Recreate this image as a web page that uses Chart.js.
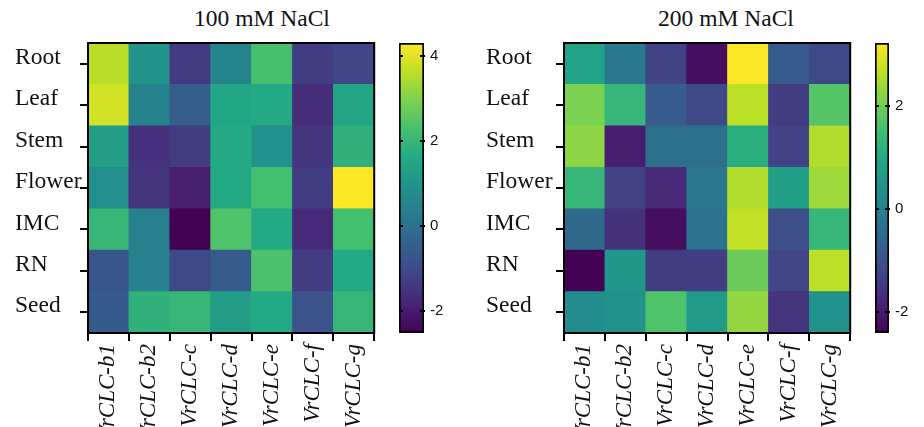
<!DOCTYPE html>
<html>
<head>
<meta charset="utf-8">
<script src="https://cdn.jsdelivr.net/npm/chart.js@4/dist/chart.umd.min.js"></script>
<style>
  body { margin: 0; background: #fff; }
  #wrap { position: relative; width: 924px; height: 427px; overflow: hidden; }
  .box { position: absolute; }
  .ttl { position: absolute; top: 5px; font: 23.5px "Liberation Serif", serif; color: #111; white-space: nowrap; transform: translateX(-50%); }
</style>
</head>
<body>
<div id="wrap">
  <div class="ttl" style="left:262px">100 mM NaCl</div>
  <div class="ttl" style="left:726px">200 mM NaCl</div>
  <div class="box" style="left:0;top:0;width:385px;height:427px"><canvas id="heat100"></canvas></div>
  <div class="box" style="left:399px;top:0;width:60px;height:427px"><canvas id="bar100"></canvas></div>
  <div class="box" style="left:471px;top:0;width:390px;height:427px"><canvas id="heat200"></canvas></div>
  <div class="box" style="left:875px;top:0;width:49px;height:427px"><canvas id="bar200"></canvas></div>
</div>
<script>
// genes (columns) and tissues (rows, top to bottom)
const genes = ["VrCLC-b1", "VrCLC-b2", "VrCLC-c", "VrCLC-d", "VrCLC-e", "VrCLC-f", "VrCLC-g"];
const tissues = ["Root", "Leaf", "Stem", "Flower", "IMC", "RN", "Seed"];

// 100 mM NaCl, one array per tissue
const nacl100Root   = [3.6, 1.0, -1.35, 0.55, 2.3, -1.3, -1.1];
const nacl100Leaf   = [3.85, 0.5, -0.5, 1.5, 1.6, -1.65, 1.45];
const nacl100Stem   = [1.25, -1.55, -1.3, 1.6, 0.9, -1.45, 1.85];
const nacl100Flower = [0.85, -1.5, -1.95, 1.6, 2.25, -1.3, 4.3];
const nacl100IMC    = [2.0, 0.4, -2.5, 2.4, 1.6, -1.7, 2.25];
const nacl100RN     = [-0.7, 0.4, -1.0, -0.55, 2.35, -1.3, 1.6];
const nacl100Seed   = [-0.6, 1.85, 2.0, 1.25, 1.6, -0.8, 2.0];

// 200 mM NaCl
const nacl200Root   = [0.85, -0.15, -1.3, -2.2, 3.2, -0.8, -1.15];
const nacl200Leaf   = [2.1, 1.3, -0.8, -1.15, 2.65, -1.4, 1.7];
const nacl200Stem   = [2.25, -1.95, -0.35, -0.35, 1.1, -1.3, 2.55];
const nacl200Flower = [1.3, -1.3, -1.75, -0.15, 2.55, 0.75, 2.4];
const nacl200IMC    = [-0.5, -1.6, -2.2, -0.3, 2.7, -1.05, 1.3];
const nacl200RN     = [-2.4, 0.55, -1.4, -1.4, 1.95, -1.25, 2.65];
const nacl200Seed   = [0.3, 0.45, 1.65, 0.65, 2.3, -1.55, 0.4];

const range100 = [-2.52, 4.31];
const range200 = [-2.41, 3.22];
const ticks100 = [-2, 0, 2, 4];
const ticks200 = [-2, 0, 2];

const viridis = ["#440154", "#482475", "#414487", "#355f8d", "#2a788e", "#21918c",
  "#22a884", "#44bf70", "#7ad151", "#bddf26", "#fde725"];

function hex(h) { return [1, 3, 5].map(i => parseInt(h.substr(i, 2), 16)); }
function viridisColor(t) {
  t = Math.max(0, Math.min(1, t));
  const p = t * (viridis.length - 1);
  const i = Math.min(Math.floor(p), viridis.length - 2);
  const f = p - i;
  const a = hex(viridis[i]), b = hex(viridis[i + 1]);
  const c = a.map((v, k) => Math.round(v + (b[k] - v) * f));
  return `rgb(${c[0]},${c[1]},${c[2]})`;
}

const outline = {
  id: 'outline',
  afterDatasetsDraw(chart) {
    const a = chart.chartArea, ctx = chart.ctx;
    ctx.save();
    ctx.strokeStyle = '#000';
    ctx.lineWidth = 2;
    ctx.strokeRect(a.left, a.top, a.right - a.left, a.bottom - a.top);
    ctx.restore();
  }
};

// short tick dashes inside the colour bar, on both edges
const innerTicks = {
  id: 'innerTicks',
  afterDatasetsDraw(chart) {
    const a = chart.chartArea, ctx = chart.ctx, y = chart.scales.y;
    ctx.save();
    ctx.strokeStyle = '#000';
    ctx.lineWidth = 2;
    y.ticks.forEach(t => {
      const py = Math.round(y.getPixelForValue(t.value));
      ctx.beginPath();
      ctx.moveTo(a.left, py); ctx.lineTo(a.left + 4, py);
      ctx.moveTo(a.right - 4, py); ctx.lineTo(a.right + 1, py);
      ctx.stroke();
    });
    ctx.restore();
  }
};

function heatmap(id, rows, range, yWidth) {
  const span = range[1] - range[0];
  // stacked bars: first dataset is the bottom row
  const datasets = rows.slice().reverse().map(vals => ({
    data: vals.map(() => 1),
    backgroundColor: vals.map(v => viridisColor((v - range[0]) / span)),
    borderWidth: 0,
    barPercentage: 1,
    categoryPercentage: 1
  }));
  new Chart(id, {
    type: 'bar',
    data: { labels: genes, datasets: datasets },
    options: {
      responsive: true,
      maintainAspectRatio: false,
      animation: false,
      layout: { padding: { left: 15, top: 43, right: 9, bottom: 0 } },
      plugins: { legend: { display: false }, tooltip: { enabled: false } },
      scales: {
        x: {
          stacked: true,
          afterFit: s => { s.height = 94; },
          grid: { drawOnChartArea: false, color: '#000', lineWidth: 2, tickLength: 8 },
          border: { display: false },
          ticks: {
            minRotation: 90, maxRotation: 90, padding: 3, color: '#111',
            font: { family: 'Liberation Serif', size: 23, style: 'italic' }
          }
        },
        y: {
          stacked: true,
          min: 0, max: 7,
          afterFit: s => { s.width = yWidth; },
          afterBuildTicks: s => { s.ticks = tissues.map((t, i) => ({ value: 6.5 - i })); },
          grid: { drawOnChartArea: false, color: '#000', lineWidth: 2, tickLength: 8 },
          border: { display: false },
          ticks: {
            crossAlign: 'far', color: '#111', labelOffset: -6,
            font: { family: 'Liberation Serif', size: 23.5 },
            callback: v => tissues[Math.round(6.5 - v)]
          }
        }
      }
    },
    plugins: [outline]
  });
}

function colorbar(id, range, tickVals) {
  new Chart(id, {
    type: 'bar',
    data: {
      labels: [''],
      datasets: [{
        data: [[range[0], range[1]]],
        backgroundColor: ctx => {
          const a = ctx.chart.chartArea;
          if (!a) return viridis[5];
          const g = ctx.chart.ctx.createLinearGradient(0, a.bottom, 0, a.top);
          viridis.forEach((c, i) => g.addColorStop(i / (viridis.length - 1), c));
          return g;
        },
        borderColor: '#000',
        borderWidth: 2,
        borderSkipped: false,
        barPercentage: 1,
        categoryPercentage: 1
      }]
    },
    options: {
      responsive: true,
      maintainAspectRatio: false,
      animation: false,
      layout: { padding: { left: 0, top: 43, right: 0, bottom: 94 } },
      plugins: { legend: { display: false }, tooltip: { enabled: false } },
      scales: {
        x: { display: false },
        y: {
          position: 'right',
          min: range[0], max: range[1],
          afterFit: s => { s.width = 35; },
          afterBuildTicks: s => { s.ticks = tickVals.map(v => ({ value: v })); },
          grid: { drawOnChartArea: false, drawTicks: false },
          border: { display: false },
          ticks: { color: '#111', padding: 6, font: { family: 'Liberation Sans', size: 15 } }
        }
      }
    },
    plugins: [innerTicks]
  });
}

heatmap('heat100', [nacl100Root, nacl100Leaf, nacl100Stem, nacl100Flower, nacl100IMC, nacl100RN, nacl100Seed], range100, 73);
heatmap('heat200', [nacl200Root, nacl200Leaf, nacl200Stem, nacl200Flower, nacl200IMC, nacl200RN, nacl200Seed], range200, 78);
colorbar('bar100', range100, ticks100);
colorbar('bar200', range200, ticks200);
</script>
</body>
</html>
